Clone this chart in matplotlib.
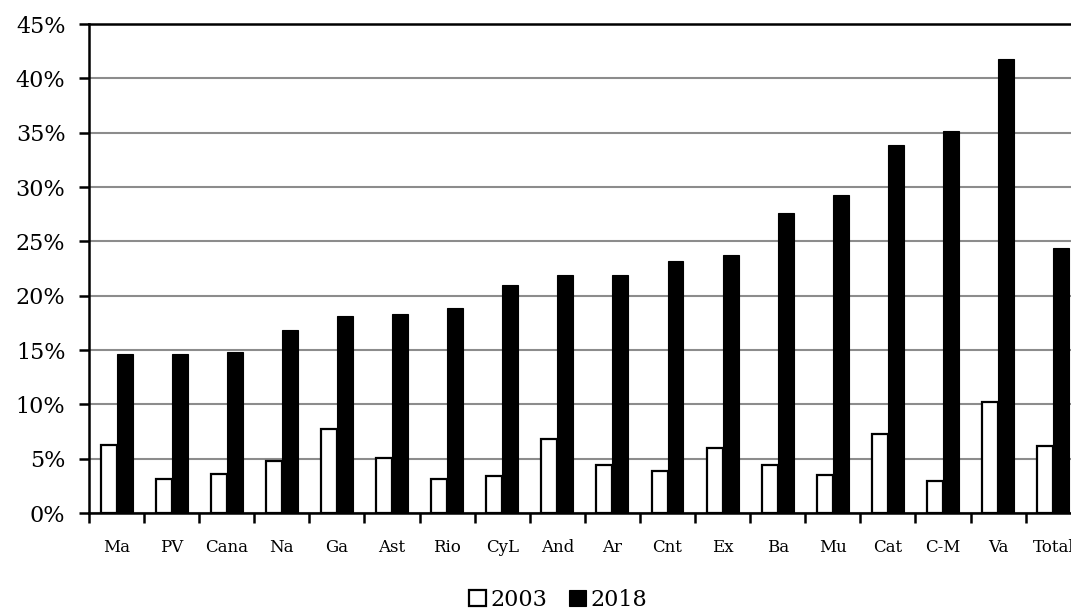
import numpy as np
import matplotlib
matplotlib.use('Agg')
import matplotlib.pyplot as plt
from matplotlib.ticker import MultipleLocator, FuncFormatter

regions = ['Ma', 'PV', 'Cana', 'Na', 'Ga', 'Ast', 'Rio', 'CyL', 'And', 'Ar',
           'Cnt', 'Ex', 'Ba', 'Mu', 'Cat', 'C-M', 'Va', 'Total']
share_2003 = [6.3, 3.1, 3.6, 4.8, 7.7, 5.1, 3.1, 3.4, 6.8, 4.4,
              3.9, 6.0, 4.4, 3.5, 7.3, 2.9, 10.2, 6.2]
share_2018 = [14.6, 14.6, 14.8, 16.8, 18.1, 18.3, 18.9, 21.0, 21.9, 21.9,
              23.2, 23.7, 27.6, 29.3, 33.9, 35.2, 41.8, 24.4]

plt.rcParams['font.family'] = ['DejaVu Serif']

fig = plt.figure(figsize=(10.71, 6.10), dpi=100)
# the axes runs a little past the right edge, so the last column is cut
ax = fig.add_axes([0.0831, 0.159, 0.926, 0.8016])

x = np.arange(len(regions))
w = 0.29
ax.bar(x - w / 2, share_2003, w, color='white', edgecolor='black',
       linewidth=1.6, label='2003', zorder=3)
ax.bar(x + w / 2, share_2018, w, color='black', edgecolor='black',
       linewidth=0.8, label='2018', zorder=3)

ax.set_xlim(-0.5, len(regions) - 0.5)
ax.set_ylim(0, 45)
ax.yaxis.set_major_locator(MultipleLocator(5))
ax.yaxis.set_major_formatter(FuncFormatter(lambda v, p: f'{v:.0f}%'))
ax.grid(axis='y', color='#8c8c8c', linewidth=1.5, zorder=0)

# category labels between the boundary ticks
ax.set_xticks(x - 0.5)
ax.set_xticklabels([])
ax.set_xticks(x, minor=True)
ax.set_xticklabels(regions, minor=True, fontsize=12)
ax.tick_params(axis='x', which='minor', length=0, pad=19)
ax.tick_params(axis='x', which='major', length=7, width=1.8, direction='out')
ax.tick_params(axis='y', length=7, width=1.8, direction='out', labelsize=16, pad=10)

for side in ['left', 'top', 'bottom']:
    ax.spines[side].set_linewidth(1.8)
    ax.spines[side].set_color('black')
ax.spines['right'].set_visible(False)

fig.legend(loc='center', bbox_to_anchor=(0.521, 0.017), ncol=2, frameon=False,
           fontsize=16, handlelength=0.75, handleheight=0.75, handletextpad=0.2,
           columnspacing=1.0)

fig.savefig('out.png', dpi=100)
